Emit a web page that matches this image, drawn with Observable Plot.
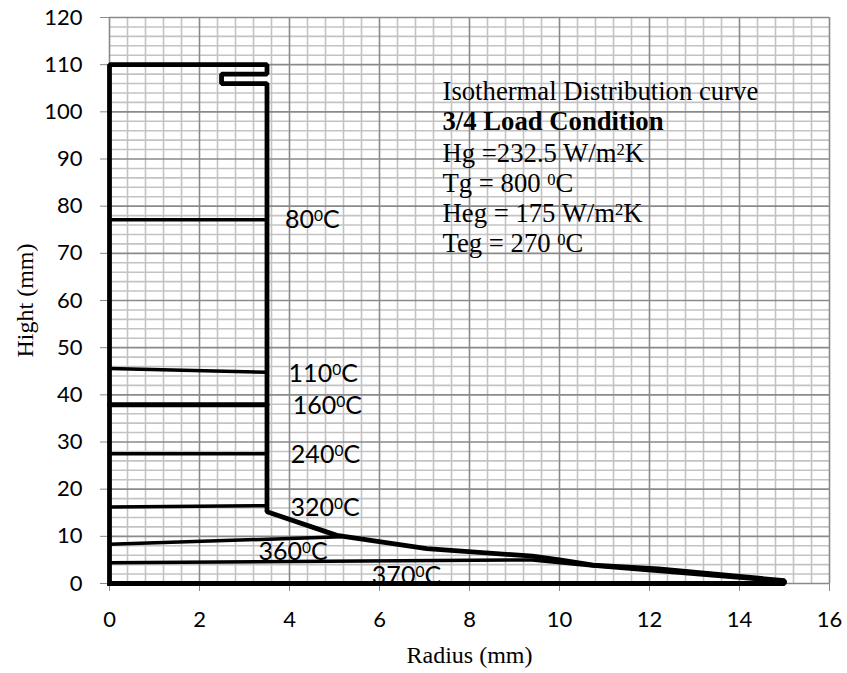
<!DOCTYPE html>
<html>
<head>
<meta charset="utf-8">
<script src="https://cdn.jsdelivr.net/npm/d3@7"></script>
<script src="https://cdn.jsdelivr.net/npm/@observablehq/plot@0.6"></script>
<style>
  html, body { margin: 0; padding: 0; background: #fff; }
</style>
</head>
<body>
<div id="chart"></div>
<script>
// ---- data ----
const xTicks = [0, 2, 4, 6, 8, 10, 12, 14, 16];
const yTicks = [0, 10, 20, 30, 40, 50, 60, 70, 80, 90, 100, 110, 120];

// thick outline of the part (radius, height)
const outlineRadius = [0, 0, 3.5, 3.5, 2.49, 2.49, 3.5, 3.5, 5.05, 7.05, 9.4, 10.0, 10.75, 12.2, 15.0, 15.0, 0];
const outlineHeight = [0, 110, 110, 108, 108, 106, 106, 15.2, 10.2, 7.4, 5.8, 5.0, 3.9, 3.1, 0.6, 0, 0];

// isotherm lines
const isoTemps = ["80⁰C", "110⁰C", "160⁰C", "240⁰C", "320⁰C", "360⁰C", "370⁰C"];
const isoRadius = [[0, 3.5], [0, 3.5], [0, 3.5], [0, 3.5], [0, 3.5], [0, 5.15], [0, 9.4, 10.75, 15.0]];
const isoHeight = [[77.1, 77.1], [45.6, 44.8], [37.9, 37.9], [27.5, 27.5], [16.2, 16.5], [8.3, 9.9], [4.4, 5.0, 3.7, 0.4]];

// isotherm label anchors (radius, height of baseline)
const labelRadius = [3.9, 3.98, 4.07, 4.03, 4.02, 3.31, 5.83];
const labelHeight = [75.4, 42.7, 35.9, 25.5, 14.3, 4.9, -0.2];

// annotation block
const noteLines = ["Isothermal Distribution curve", "3/4 Load Condition", "Hg =232.5 W/m²K", "Tg = 800 ⁰C", "Heg = 175 W/m²K", "Teg = 270 ⁰C"];
const noteBold = [false, true, false, false, false, false];
const noteRadius = 7.4;
const noteHeight = [102.5, 96.1, 89.4, 83.1, 76.7, 70.3];

// ---- derived tables ----
const outline = outlineRadius.map((r, i) => ({r, h: outlineHeight[i]}));
const isoLines = isoTemps.flatMap((t, k) => isoRadius[k].map((r, i) => ({t, r, h: isoHeight[k][i]})));
const isoLabels = isoTemps.map((t, i) => ({t, r: labelRadius[i], h: labelHeight[i]}));
const notes = noteLines.map((s, i) => ({s, bold: noteBold[i], r: noteRadius, h: noteHeight[i]}));

const minorX = d3.range(1, 40).map(i => i * 0.4).filter(v => Math.abs(v / 2 - Math.round(v / 2)) > 1e-6);
const minorY = d3.range(1, 60).map(i => i * 2).filter(v => v % 10 !== 0);

const widthFor = t => (t === "160⁰C" ? 5 : 3.5);

const chart = Plot.plot({
  width: 847,
  height: 673,
  marginLeft: 109,
  marginRight: 18,
  marginTop: 17,
  marginBottom: 90,
  style: {fontFamily: "Lato", fontSize: "22px", color: "#000", background: "#fff"},
  x: {domain: [0, 16]},
  y: {domain: [0, 120]},
  marks: [
    Plot.ruleX(minorX, {stroke: "#c3c3c3", strokeWidth: 1.6}),
    Plot.ruleY(minorY, {stroke: "#c3c3c3", strokeWidth: 1.6}),
    Plot.ruleX(xTicks, {stroke: "#8a8a8a", strokeWidth: 1.6}),
    Plot.ruleY(yTicks, {stroke: "#8a8a8a", strokeWidth: 1.6}),
    Plot.axisX({ticks: xTicks, tickSize: 8, tickPadding: 20, tickFormat: d => String(d), stroke: "#8a8a8a", fill: "#000", fontSize: 22, fontFamily: "Lato", label: null}),
    Plot.axisY({ticks: yTicks, tickSize: 9, tickPadding: 18, tickFormat: d => String(d), stroke: "#8a8a8a", fill: "#000", fontSize: 22, fontFamily: "Lato", label: null}),
    Plot.text(["Radius (mm)"], {frameAnchor: "bottom", textAnchor: "middle", lineAnchor: "bottom", dy: 79, fontFamily: "Liberation Serif", fontSize: 24, fill: "#000"}),
    Plot.text(["Hight (mm)"], {frameAnchor: "left", textAnchor: "middle", lineAnchor: "middle", dx: -84, rotate: -90, fontFamily: "Liberation Serif", fontSize: 24, fill: "#000"}),
    ...isoTemps.map(t => Plot.line(isoLines.filter(d => d.t === t), {x: "r", y: "h", stroke: "#000", strokeWidth: widthFor(t)})),
    Plot.text(isoLabels, {x: "r", y: "h", text: "t", textAnchor: "start", lineAnchor: "bottom", fontFamily: "Lato", fontSize: 25, fill: "#000"}),
    Plot.text(notes.filter(d => !d.bold), {x: "r", y: "h", text: "s", textAnchor: "start", lineAnchor: "bottom", fontFamily: "Liberation Serif", fontSize: 26.7, fill: "#000"}),
    Plot.text(notes.filter(d => d.bold), {x: "r", y: "h", text: "s", textAnchor: "start", lineAnchor: "bottom", fontFamily: "Liberation Serif", fontSize: 26.7, fontWeight: "bold", fill: "#000"}),
    Plot.line(outline, {x: "r", y: "h", stroke: "#000", strokeWidth: 4.8, strokeLinejoin: "miter", strokeLinecap: "square"})
  ]
});
document.getElementById("chart").appendChild(chart);

// render superscript characters as raised, smaller digits (as in the original)
const supMap = {"⁰": "0", "²": "2"};
const NS = "http://www.w3.org/2000/svg";
chart.querySelectorAll("text").forEach(el => {
  const s = el.textContent;
  if (!/[⁰²]/.test(s)) return;
  const fs = parseFloat(getComputedStyle(el).fontSize);
  const serif = /Serif/.test(getComputedStyle(el).fontFamily);
  const supSize = fs * 0.62;
  const shift = serif ? fs * 0.26 : fs * 0.28;
  el.textContent = "";
  let raised = false;
  for (const ch of s) {
    const t = document.createElementNS(NS, "tspan");
    if (supMap[ch]) {
      t.textContent = supMap[ch];
      t.setAttribute("font-size", supSize);
      t.setAttribute("dy", raised ? 0 : -shift);
      raised = true;
    } else {
      t.textContent = ch;
      t.setAttribute("dy", raised ? shift : 0);
      raised = false;
    }
    el.appendChild(t);
  }
});
</script>
</body>
</html>
